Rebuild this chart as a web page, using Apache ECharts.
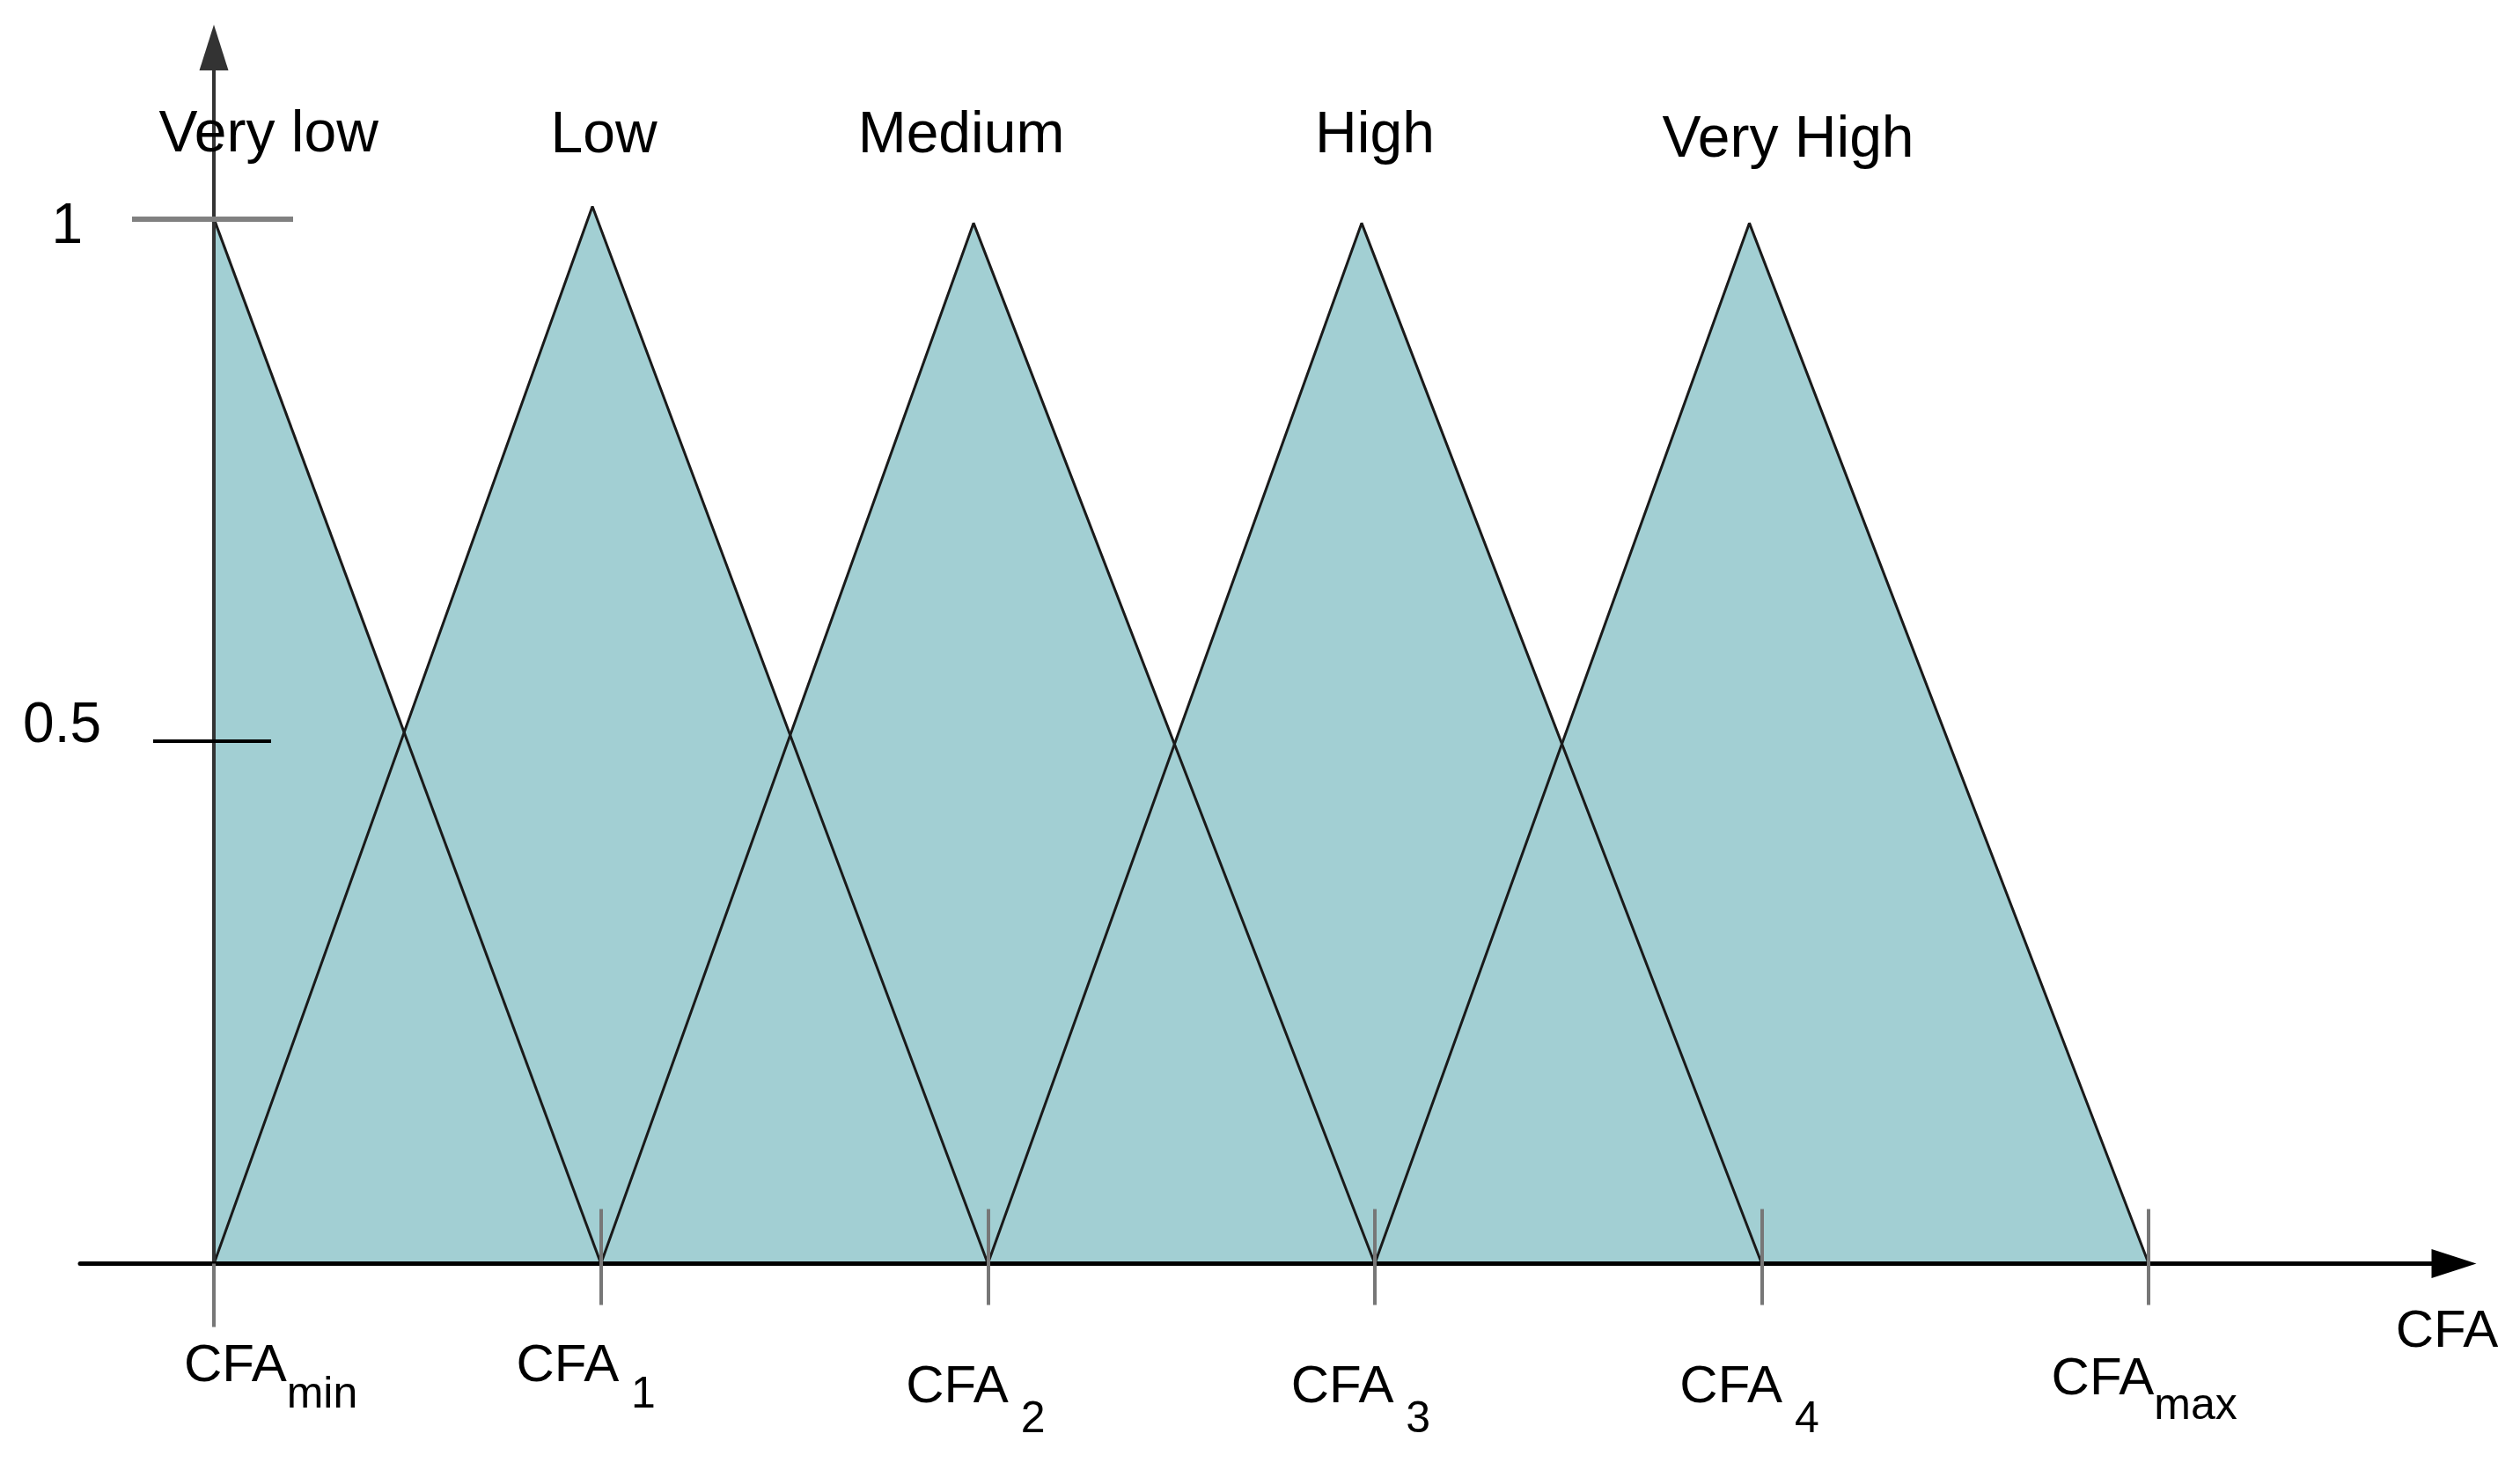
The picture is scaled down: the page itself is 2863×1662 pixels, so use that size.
<!DOCTYPE html>
<html><head><meta charset="utf-8">
<script src="https://cdn.jsdelivr.net/npm/echarts@6/dist/echarts.min.js"></script>
<style>html,body{margin:0;padding:0;background:#fff}#c{width:2863px;height:1662px}</style>
</head><body><div id="c"></div>
<script>
// ---- data ----
const termNames = ['Very low', 'Low', 'Medium', 'High', 'Very High'];
const termStarts = [0, 0, 1, 2, 3];
const termPeakX = [0, 0.978, 1.963, 2.966, 3.968];
const termPeakY = [1.0, 1.012, 0.996, 0.996, 0.996];
const termEnds = [1, 2, 3, 4, 5];
const xTickValues = [0, 1, 2, 3, 4, 5];
const xTickMain = ['CFA', 'CFA', 'CFA', 'CFA', 'CFA', 'CFA'];
const xTickSubs = ['min', ' 1', ' 2', ' 3', ' 4', 'max'];
const xAxisName = 'CFA';
const yTickValues = [0.5, 1];
const yTickLabels = ['0.5', '1'];
const xRange = [-0.346, 5.789];
const yRange = [0, 1.164];

// ---- style ----
const FONT = "'Liberation Sans', Arial, sans-serif";
const FILL = '#A2CFD3';
const GRID_LEFT = 91;
const Y_AXIS_X = 243;
const termLabelOffsets = [[62, -95], [13, -80], [-14, -99], [15, -99], [44, -94]];
const xLabelPad = [[129, 0], [0, 34], [0, 28], [0, 32], [0, 28], [0, 10]];
const xLabelH = [[73, 139], [73, 139], [121, 195], [121, 195], [121, 195], [103, 165]];

const rich = {};
xTickValues.forEach((v, i) => {
  rich['m' + i] = {fontFamily: FONT, fontSize: 60, color: '#000', verticalAlign: 'top',
    height: xLabelH[i][0], padding: [0, 0, 0, xLabelPad[i][0]]};
  rich['s' + i] = {fontFamily: FONT, fontSize: 50, color: '#000', verticalAlign: 'top',
    height: xLabelH[i][1], padding: [0, xLabelPad[i][1], 0, 0]};
});

const series = [];
termNames.forEach((name, i) => {
  series.push({
    type: 'line', name: name, z: 1, silent: true, symbol: 'none', animation: false,
    data: [[termStarts[i], 0], [termPeakX[i], termPeakY[i]], [termEnds[i], 0]],
    lineStyle: {width: 0, opacity: 0},
    areaStyle: {color: FILL, opacity: 1}
  });
});
termNames.forEach((name, i) => {
  const pts = termStarts[i] === termPeakX[i]
    ? [[termPeakX[i], termPeakY[i]], [termEnds[i], 0]]
    : [[termStarts[i], 0], [termPeakX[i], termPeakY[i]], [termEnds[i], 0]];
  series.push({
    type: 'line', z: 2, silent: true, symbol: 'none', animation: false,
    data: pts, lineStyle: {color: '#1a1a1a', width: 3}
  });
});
series.push({
  type: 'scatter', z: 4, silent: true, animation: false, symbolSize: 0,
  itemStyle: {color: '#000', opacity: 1},
  label: {show: true, position: 'inside', formatter: '{b}', fontFamily: FONT, fontSize: 66,
    color: '#000', opacity: 1, textBorderWidth: 0, textBorderColor: 'transparent'},
  data: termNames.map((n, i) => ({name: n, value: [termPeakX[i], termPeakY[i]], label: {offset: termLabelOffsets[i]}}))
});

const baseX = {type: 'value', min: xRange[0], max: xRange[1], position: 'bottom', z: 3,
  splitLine: {show: false}, axisLabel: {show: false}, axisLine: {show: false}};
const baseY = {type: 'value', min: yRange[0], max: yRange[1], position: 'left', z: 3,
  offset: GRID_LEFT - Y_AXIS_X,
  splitLine: {show: false}, axisLabel: {show: false}};

const option = {
  backgroundColor: '#fff',
  animation: false,
  grid: {left: GRID_LEFT, right: 75, top: 54, bottom: 226.5, containLabel: false, outerBoundsMode: 'none'},
  xAxis: [
    Object.assign({}, baseX, {
      axisLine: {show: true, onZero: false, symbol: ['none', 'triangle'], symbolSize: [33, 51],
        lineStyle: {color: '#000', width: 5}},
      axisTick: {show: true, customValues: xTickValues.slice(1), length: 47, inside: false,
        lineStyle: {color: '#777', width: 4}},
      axisLabel: {show: true, customValues: xTickValues, margin: 80,
        formatter: (v) => { const i = xTickValues.indexOf(v); return '{m' + i + '|' + xTickMain[i] + '}{s' + i + '|' + xTickSubs[i] + '}'; },
        rich: rich},
      name: xAxisName, nameLocation: 'end', nameGap: -8,
      nameTextStyle: {fontFamily: FONT, fontSize: 60, color: '#000', align: 'center', verticalAlign: 'top',
        lineHeight: 62, padding: [47, 0, 0, 0]}
    }),
    Object.assign({}, baseX, {
      axisLine: {show: false, onZero: false},
      axisTick: {show: true, customValues: xTickValues.slice(1), length: 62, inside: true,
        lineStyle: {color: '#777', width: 4}}
    }),
    Object.assign({}, baseX, {
      axisLine: {show: false, onZero: false},
      axisTick: {show: true, customValues: [xTickValues[0]], length: 72, inside: false,
        lineStyle: {color: '#777', width: 4}}
    })
  ],
  yAxis: [
    Object.assign({}, baseY, {
      axisLine: {show: true, onZero: false, symbol: ['none', 'triangle'], symbolSize: [33, 52],
        lineStyle: {color: '#333', width: 4}},
      axisTick: {show: true, customValues: [yTickValues[1]], length: 93, inside: false,
        lineStyle: {color: '#808080', width: 6}},
      axisLabel: {show: true, customValues: [yTickValues[1]], margin: 149,
        formatter: (v) => yTickLabels[yTickValues.indexOf(Number(v))],
        fontFamily: FONT, fontSize: 64, color: '#000', verticalAlign: 'top', lineHeight: 19}
    }),
    Object.assign({}, baseY, {
      axisLine: {show: false, onZero: false},
      axisTick: {show: true, customValues: [yTickValues[1]], length: 90, inside: true,
        lineStyle: {color: '#808080', width: 6}}
    }),
    Object.assign({}, baseY, {
      axisLine: {show: false, onZero: false},
      axisTick: {show: true, customValues: [yTickValues[0]], length: 69, inside: false,
        lineStyle: {color: '#000', width: 4}},
      axisLabel: {show: true, customValues: [yTickValues[0]], margin: 128,
        formatter: (v) => yTickLabels[yTickValues.indexOf(Number(v))],
        fontFamily: FONT, fontSize: 64, color: '#000', verticalAlign: 'bottom', lineHeight: 34}
    }),
    Object.assign({}, baseY, {
      axisLine: {show: false, onZero: false},
      axisTick: {show: true, customValues: [yTickValues[0]], length: 65, inside: true,
        lineStyle: {color: '#000', width: 4}}
    })
  ],
  series: series
};

const chart = echarts.init(document.getElementById('c'), null, {renderer: 'canvas'});
chart.setOption(option);
</script>
</body></html>
